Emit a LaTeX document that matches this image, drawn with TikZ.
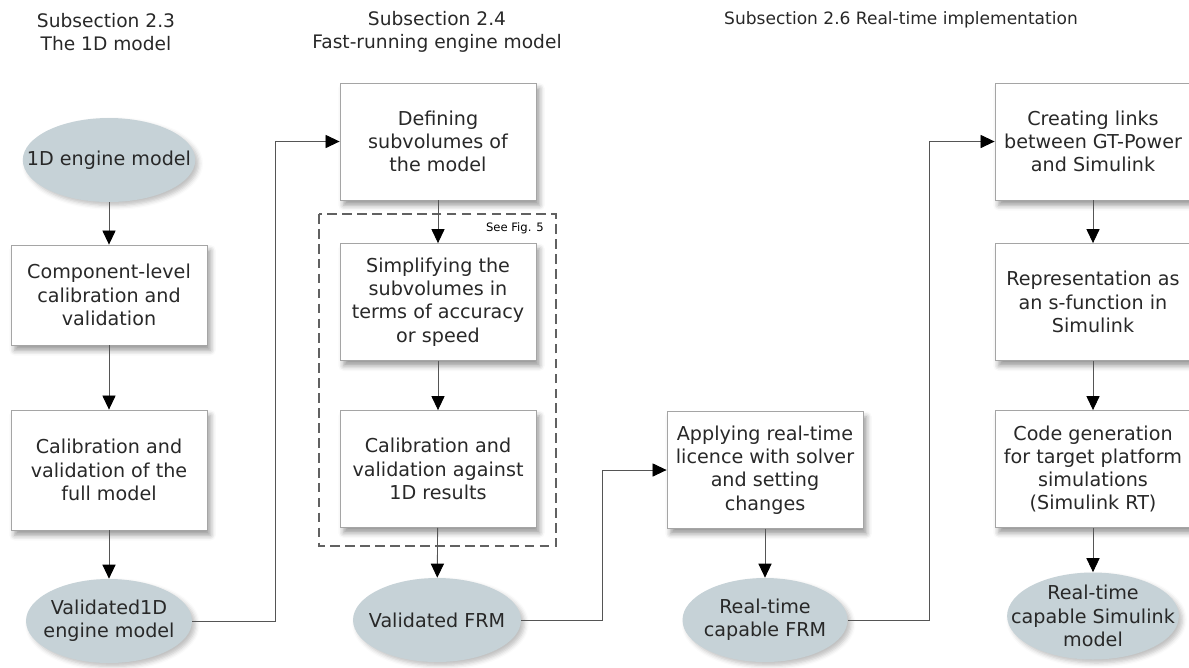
\documentclass[tikz,border=0pt]{standalone}
\usepackage{fontspec}
\setmainfont{DejaVu Sans}
\usetikzlibrary{arrows.meta,shapes.geometric,shadows.blur}

\definecolor{ovalfill}{RGB}{198,210,215}
\definecolor{boxline}{RGB}{165,165,165}
\definecolor{linegray}{RGB}{85,85,85}
\definecolor{textgray}{RGB}{40,40,40}

\tikzset{
  every node/.style={font=\fontsize{10.9}{13.2}\selectfont, text=textgray},
  title/.style={align=center, font=\fontsize{10.6}{13.2}\selectfont},
  stepbox/.style={draw=boxline, line width=0.5pt, fill=white, align=center,
    minimum width=3.92cm, minimum height=2.34cm, inner sep=2pt,
    blur shadow={shadow xshift=2pt, shadow yshift=-3pt, shadow blur radius=3pt, shadow opacity=40}},
  modeloval/.style={ellipse, fill=ovalfill, align=center, inner xsep=-12pt, inner ysep=-6pt,
    minimum width=3.36cm, minimum height=1.68cm,
    blur shadow={shadow xshift=2pt, shadow yshift=-2pt, shadow blur radius=2.5pt, shadow opacity=25}},
  flow/.style={draw=linegray, line width=0.5pt, -{Triangle[length=8pt,width=7.5pt,color=black]}},
  seebox/.style={draw=black!62, line width=1.5pt, dash pattern=on 5.5pt off 3pt},
}

\begin{document}
\begin{tikzpicture}[x=0.02cm, y=-0.02cm]
\useasboundingbox (0,0) rectangle (1189,667);

\node[title] (t1) at (106,32) {Subsection 2.3\\The 1D model};
\node[title] (t2) at (437,32) {Subsection 2.4\\Fast-running engine model};
\node[title, font=\fontsize{9.7}{13.2}\selectfont] (t3) at (901,20) {Subsection 2.6 Real-time implementation};

% the 1D model
\node[modeloval, minimum width=3.44cm] (m1) at (109,160) {1D engine model};
\node[stepbox, minimum height=2cm] (comp) at (109,295) {Component-level\\calibration and\\validation};
\node[stepbox, minimum height=2.4cm] (full) at (109,470) {Calibration and\\validation of the\\full model};
\node[modeloval, minimum width=3.32cm] (m2) at (109,621) {Validated1D\\engine model};

% fast-running engine model
\node[stepbox] (def) at (438,141.5) {Defining\\subvolumes of\\the model};
\node[stepbox] (simp) at (438,302) {Simplifying the\\subvolumes in\\terms of accuracy\\or speed};
\node[stepbox] (cal) at (438,469) {Calibration and\\validation against\\1D results};
\node[modeloval] (m3) at (437,620) {Validated FRM};
\draw[seebox] (319,214) rectangle (556,546);
\node[anchor=east, font=\fontsize{6.6}{7.5}\selectfont, text=black] (fig) at (550,228) {See Fig. 5};

% real-time implementation
\node[stepbox] (lic) at (765,470) {Applying real-time\\licence with solver\\and setting\\changes};
\node[modeloval, minimum width=3.3cm] (m4) at (765,620) {Real-time\\capable FRM};
\node[stepbox] (link) at (1093,141.5) {Creating links\\between GT-Power\\and Simulink};
\node[stepbox] (sfun) at (1093,302) {Representation as\\an s-function in\\Simulink};
\node[stepbox] (code) at (1093,469) {Code generation\\for target platform\\simulations\\(Simulink RT)};
\node[modeloval, minimum height=1.74cm] (m5) at (1093,616) {Real-time\\capable Simulink\\model};

\coordinate (k1) at (275,0);
\coordinate (k2) at (602,0);
\coordinate (k3) at (929,0);

\draw[flow] (m1) -- (comp);
\draw[flow] (comp) -- (full);
\draw[flow] (full) -- (m2);
\draw[flow] (def) -- (simp);
\draw[flow] (simp) -- (cal);
\draw[flow] (cal) -- (m3);
\draw[flow] (lic) -- (m4);
\draw[flow] (link) -- (sfun);
\draw[flow] (sfun) -- (code);
\draw[flow] (code) -- (m5);

\draw[flow] (m2.east) -- (m2.east -| k1) |- (def.west);
\draw[flow] (m3.east) -- (m3.east -| k2) |- (lic.west);
\draw[flow] (m4.east) -- (m4.east -| k3) |- (link.west);

\end{tikzpicture}
\end{document}
